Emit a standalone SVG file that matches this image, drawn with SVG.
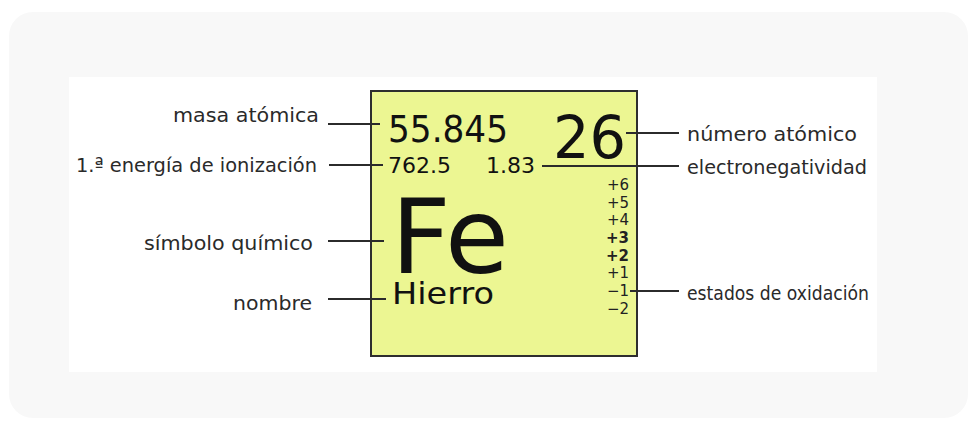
<svg xmlns="http://www.w3.org/2000/svg" width="977" height="428" viewBox="0 0 977 428">
  <style>
    .lbl { font-family: "DejaVu Sans", Verdana, sans-serif; font-size: 19.5px; fill: #2a2a2a; }
    .box { font-family: "DejaVu Sans", Verdana, sans-serif; fill: #111; }
    .ox { font-family: "DejaVu Sans", Verdana, sans-serif; font-size: 15px; fill: #222; text-anchor: end; }
    .b { font-weight: bold; }
    .conn line { stroke: #2b2b2b; stroke-width: 2; }
  </style>
  <rect x="9" y="12" width="959" height="406" rx="24" fill="#f8f8f8"/>
  <rect x="69" y="77" width="808" height="295" fill="#ffffff"/>

  <g id="element-box">
    <rect x="371" y="91" width="266" height="265" fill="#ecf692" stroke="#2e2e2e" stroke-width="2"/>
    <text class="box" x="388" y="142" font-size="37" textLength="120" lengthAdjust="spacingAndGlyphs">55.845</text>
    <text class="box" x="388" y="173" font-size="22">762.5</text>
    <text class="box" x="486" y="173" font-size="22">1.83</text>
    <text class="box" x="553" y="158" font-size="59" textLength="73" lengthAdjust="spacingAndGlyphs">26</text>
    <text class="box" x="391" y="273" font-size="104" textLength="118" lengthAdjust="spacingAndGlyphs">Fe</text>
    <text class="box" x="392" y="304" font-size="30" textLength="102" lengthAdjust="spacingAndGlyphs">Hierro</text>
    <text class="ox" x="629" y="190">+6</text>
    <text class="ox" x="629" y="208">+5</text>
    <text class="ox" x="629" y="225">+4</text>
    <text class="ox b" x="629" y="243">+3</text>
    <text class="ox b" x="629" y="261">+2</text>
    <text class="ox" x="629" y="278">+1</text>
    <text class="ox" x="629" y="296">−1</text>
    <text class="ox" x="629" y="314">−2</text>
  </g>

  <g id="label-masa"><text class="lbl" x="173" y="122" textLength="146" lengthAdjust="spacingAndGlyphs">masa atómica</text></g>
  <g id="label-energia"><text class="lbl" x="76" y="172" textLength="241" lengthAdjust="spacingAndGlyphs">1.ª energía de ionización</text></g>
  <g id="label-simbolo"><text class="lbl" x="144" y="250" textLength="169" lengthAdjust="spacingAndGlyphs">símbolo químico</text></g>
  <g id="label-nombre"><text class="lbl" x="233" y="310" textLength="79" lengthAdjust="spacingAndGlyphs">nombre</text></g>
  <g id="label-numero"><text class="lbl" x="687" y="141" textLength="170" lengthAdjust="spacingAndGlyphs">número atómico</text></g>
  <g id="label-electroneg"><text class="lbl" x="687" y="174" textLength="180" lengthAdjust="spacingAndGlyphs">electronegatividad</text></g>
  <g id="label-oxidacion"><text class="lbl" x="687" y="300" textLength="182" lengthAdjust="spacingAndGlyphs">estados de oxidación</text></g>

  <g id="connectors" class="conn">
    <line x1="328" y1="124" x2="380" y2="124"/>
    <line x1="329" y1="165" x2="383" y2="165"/>
    <line x1="328" y1="241" x2="384" y2="241"/>
    <line x1="328" y1="299" x2="386" y2="299"/>
    <line x1="626" y1="133" x2="679" y2="133"/>
    <line x1="542" y1="166" x2="679" y2="166"/>
    <line x1="630" y1="291" x2="679" y2="291"/>
  </g>
</svg>
